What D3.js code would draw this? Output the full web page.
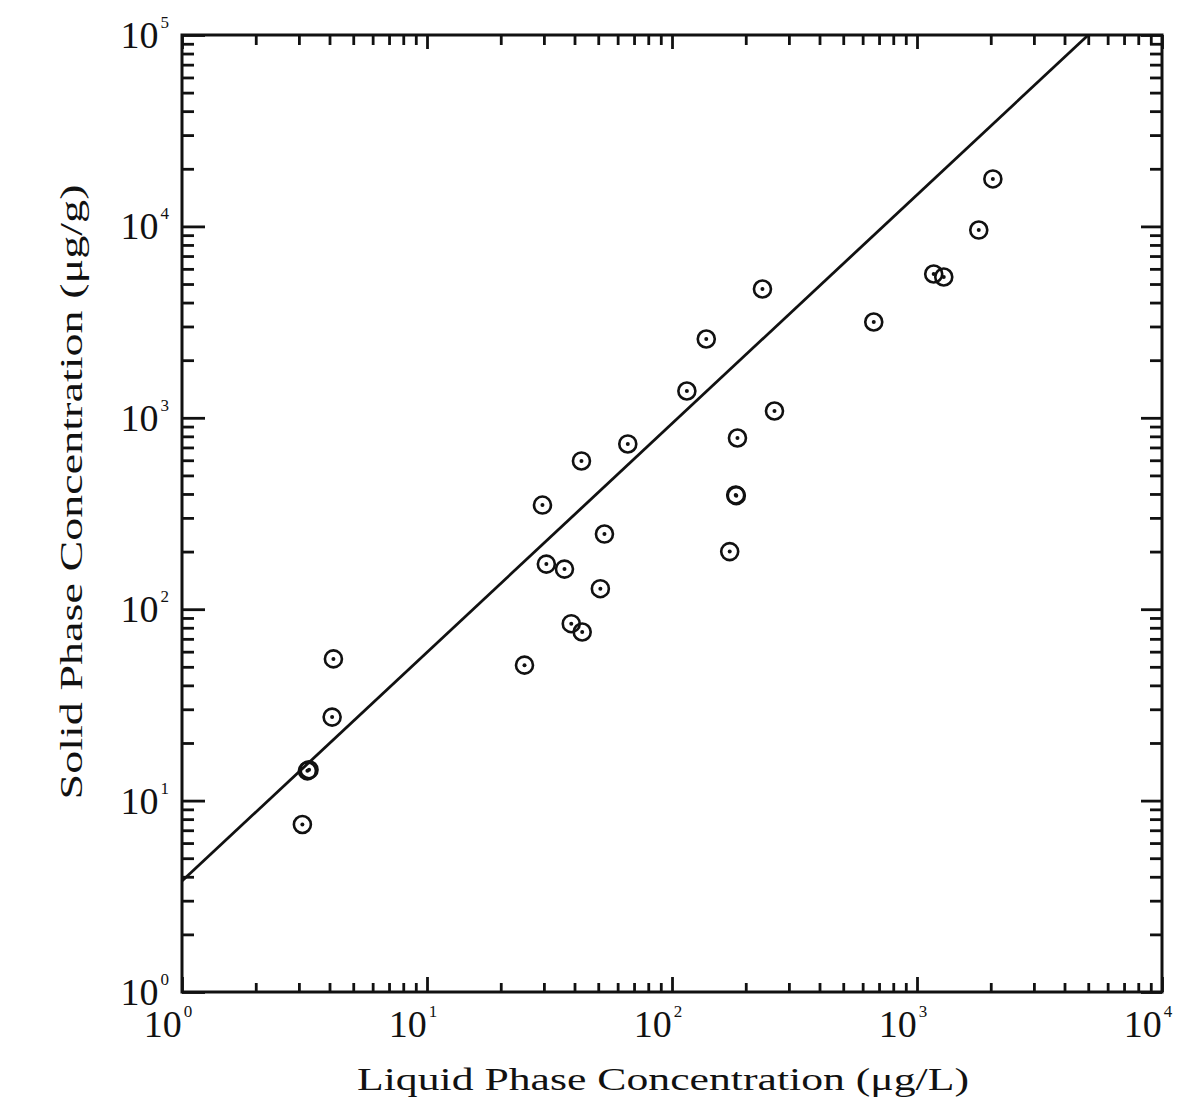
<!DOCTYPE html>
<html>
<head>
<meta charset="utf-8">
<script src="https://cdn.jsdelivr.net/npm/d3@7"></script>
<style>
  html, body { margin: 0; padding: 0; background: #fff; }
  svg { display: block; }
  text { font-family: "Liberation Serif", "DejaVu Serif", serif; fill: #111; }
</style>
</head>
<body>
<svg id="chart" width="1199" height="1104"></svg>
<script>
// ---- data ----
const liquidConc = [3.1, 3.25, 3.3, 4.1, 4.15, 25, 29.6, 30.7, 36.4, 38.8, 43, 42.7, 51, 53, 66, 115, 138, 172, 182, 183, 185, 234, 262, 666, 1170, 1286, 1787, 2040];
const solidConc  = [7.5, 14.3, 14.5, 27.3, 55, 51, 350, 172, 162, 84, 76, 595, 128, 247, 730, 1380, 2580, 200, 395, 392, 784, 4710, 1085, 3165, 5640, 5440, 9570, 17700];
// fitted isotherm drawn as a straight line on log-log axes (end points)
const fitX = [1, 5000];
const fitY = [3.8, 100000];
// axis tick labels (decades)
const xDecades = [1, 10, 100, 1000, 10000];
const xExponents = ["0", "1", "2", "3", "4"];
const yDecades = [1, 10, 100, 1000, 10000, 100000];
const yExponents = ["0", "1", "2", "3", "4", "5"];
const xTitle = "Liquid Phase Concentration (μg/L)";
const yTitle = "Solid Phase Concentration (μg/g)";

// ---- layout ----
const L = 182, R = 1162, T = 35, B = 992;
const svg = d3.select("#chart");
const x = d3.scaleLog().domain([1, 1e4]).range([L, R]);
const y = d3.scaleLog().domain([1, 1e5]).range([B, T]);

function logTicks(lo, hi) {
  const t = [];
  for (let e = Math.log10(lo); e < Math.log10(hi); e++) {
    for (let m = 1; m <= 9; m++) t.push(m * Math.pow(10, e));
  }
  t.push(hi);
  return t;
}
const isMajor = v => Math.abs(Math.log10(v) - Math.round(Math.log10(v))) < 1e-9;

const xt = logTicks(1, 1e4), yt = logTicks(1, 1e5);

function styleAxis(g, majorLen, minorLen, dir) {
  g.select(".domain").remove();
  g.selectAll("text").remove();
  g.selectAll(".tick line")
    .attr("stroke", "#111").attr("stroke-width", 2.8)
    .each(function(d) {
      const len = (isMajor(d) ? majorLen : minorLen) * dir;
      const el = d3.select(this);
      if (el.attr("x2") !== null && +el.attr("x2") !== 0) el.attr("x2", len);
      else el.attr("y2", len);
    });
}

// bottom axis: ticks pointing up
svg.append("g").attr("transform", `translate(0,${B})`)
  .call(d3.axisBottom(x).tickValues(xt).tickSize(-10).tickFormat(""))
  .call(g => styleAxis(g, 15, 9, -1));
// top axis: ticks pointing down
svg.append("g").attr("transform", `translate(0,${T})`)
  .call(d3.axisTop(x).tickValues(xt).tickSize(-10).tickFormat(""))
  .call(g => styleAxis(g, 14, 10, 1));
// left axis: ticks pointing right
svg.append("g").attr("transform", `translate(${L},0)`)
  .call(d3.axisLeft(y).tickValues(yt).tickSize(-12).tickFormat(""))
  .call(g => styleAxis(g, 23, 12, 1));
// right axis: ticks pointing left
svg.append("g").attr("transform", `translate(${R},0)`)
  .call(d3.axisRight(y).tickValues(yt).tickSize(-12).tickFormat(""))
  .call(g => styleAxis(g, 21, 12, -1));

// frame
svg.append("rect")
  .attr("x", L).attr("y", T).attr("width", R - L).attr("height", B - T)
  .attr("fill", "none").attr("stroke", "#111").attr("stroke-width", 3);

// tick labels
const xl = svg.append("g");
xDecades.forEach((v, i) => {
  const t = xl.append("text").attr("x", x(v) - 14).attr("y", B + 45)
    .attr("text-anchor", "middle").attr("font-size", 38);
  t.append("tspan").text("10");
  t.append("tspan").attr("font-size", 17).attr("dy", -20).attr("dx", 2).text(xExponents[i]);
});
const yl = svg.append("g");
yDecades.forEach((v, i) => {
  const t = yl.append("text").attr("x", L - 13).attr("y", y(v) + 13)
    .attr("text-anchor", "end").attr("font-size", 38);
  t.append("tspan").text("10");
  t.append("tspan").attr("font-size", 17).attr("dy", -20).attr("dx", 2).text(yExponents[i]);
});

// axis titles
svg.append("text").attr("x", 663).attr("y", 1090).attr("text-anchor", "middle")
  .attr("font-size", 31).attr("textLength", 612).attr("lengthAdjust", "spacingAndGlyphs")
  .text(xTitle);
svg.append("text").attr("transform", "translate(82,492) rotate(-90)").attr("text-anchor", "middle")
  .attr("font-size", 31).attr("textLength", 615).attr("lengthAdjust", "spacingAndGlyphs")
  .text(yTitle);

// fitted line
svg.append("path")
  .datum(fitX.map((v, i) => [v, fitY[i]]))
  .attr("fill", "none").attr("stroke", "#111").attr("stroke-width", 2.8)
  .attr("d", d3.line().x(d => x(d[0])).y(d => y(d[1])));

// data points: circle with centre dot
const pts = liquidConc.map((v, i) => ({ c: v, q: solidConc[i] }));
const pg = svg.append("g");
pg.selectAll("circle.ring").data(pts).join("circle").attr("class", "ring")
  .attr("cx", d => x(d.c)).attr("cy", d => y(d.q)).attr("r", 8.5)
  .attr("fill", "none").attr("stroke", "#111").attr("stroke-width", 2.6);
pg.selectAll("circle.dot").data(pts).join("circle").attr("class", "dot")
  .attr("cx", d => x(d.c)).attr("cy", d => y(d.q)).attr("r", 2)
  .attr("fill", "#111");
</script>
</body>
</html>
